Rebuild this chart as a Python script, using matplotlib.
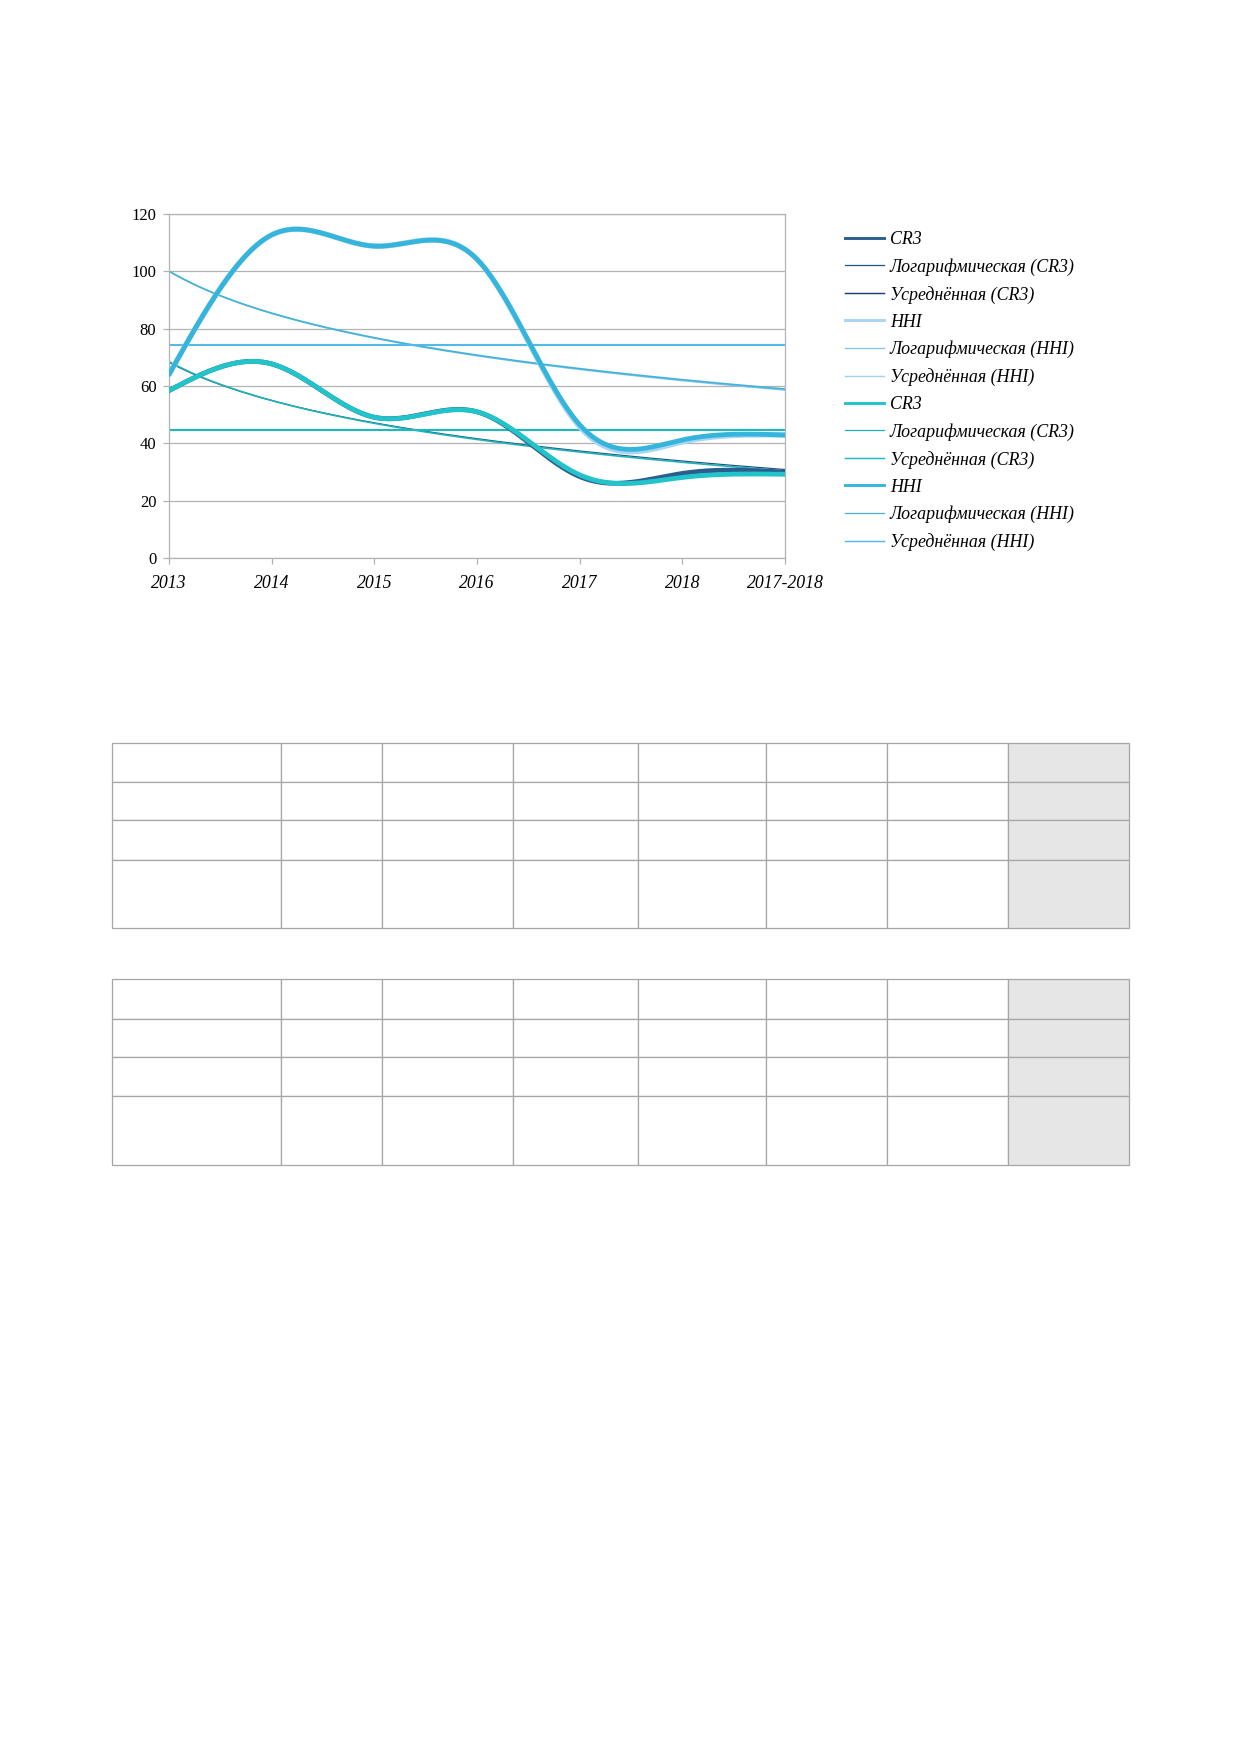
import numpy as np
import matplotlib.pyplot as plt
from matplotlib.lines import Line2D
from matplotlib.patches import Rectangle

# categories and series
years = ["2013", "2014", "2015", "2016", "2017", "2018", "2017-2018"]
cr3_dark = [58.4, 67.7, 49.1, 51.0, 28.4, 29.5, 29.9]
hhi_light = [64.0, 112.7, 108.8, 104.2, 45.8, 40.5, 42.9]
cr3_cyan = [58.4, 67.7, 49.1, 51.0, 29.0, 28.1, 29.2]
hhi_blue = [64.0, 112.7, 108.8, 104.2, 46.5, 41.2, 42.9]
y_ticks = [0, 20, 40, 60, 80, 100, 120]

W, H = 1239, 1754
DPI = 150


def smooth(y, n=400):
    # natural cubic spline through the category points
    y = np.asarray(y, float)
    x = np.arange(len(y), dtype=float)
    h = np.diff(x)
    k = len(x)
    A = np.zeros((k, k))
    r = np.zeros(k)
    A[0, 0] = A[-1, -1] = 1
    for i in range(1, k - 1):
        A[i, i - 1] = h[i - 1]
        A[i, i] = 2 * (h[i - 1] + h[i])
        A[i, i + 1] = h[i]
        r[i] = 3 * ((y[i + 1] - y[i]) / h[i] - (y[i] - y[i - 1]) / h[i - 1])
    c = np.linalg.solve(A, r)
    b = (y[1:] - y[:-1]) / h - h * (2 * c[:-1] + c[1:]) / 3
    d = (c[1:] - c[:-1]) / (3 * h)
    xs = np.linspace(x[0], x[-1], n)
    idx = np.clip(np.searchsorted(x, xs, side="right") - 1, 0, k - 2)
    dx = xs - x[idx]
    return xs, y[idx] + b[idx] * dx + c[idx] * dx ** 2 + d[idx] * dx ** 3


def log_trend(y, n=400):
    pos = np.arange(len(y)) + 1.0
    slope, inter = np.polyfit(np.log(pos), y, 1)
    xs = np.linspace(1, len(y), n)
    return xs - 1, inter + slope * np.log(xs)


# (name, values, main colour, main lw, log colour, log lw, mean colour, mean lw)
series = [
    ("CR3", cr3_dark, "#2b5e8e", 2.3, "#1f5283", 0.6, "#163f6e", 0.5),
    ("HHI", hhi_light, "#a8d6f4", 2.6, "#7fc3ec", 0.7, "#a4d2f0", 0.5),
    ("CR3", cr3_cyan, "#22c3c9", 2.3, "#1eb2b6", 0.8, "#1bbabe", 1.0),
    ("HHI", hhi_blue, "#36b5dc", 2.3, "#44b3d8", 0.8, "#52b9e8", 1.0),
]

fig = plt.figure(figsize=(W / DPI, H / DPI), dpi=DPI)
ax = fig.add_axes([169 / W, 1 - 558 / H, (785 - 169) / W, (558 - 214) / H])

handles = []
labels = []
for name, vals, col, lw, logcol, llw, meancol, mlw in series:
    xs, ys = smooth(vals)
    ax.plot(xs, ys, color=col, lw=lw, solid_capstyle="round", zorder=3)
    lx, ly = log_trend(vals)
    ax.plot(lx, ly, color=logcol, lw=llw, zorder=2)
    ax.axhline(np.mean(vals), color=meancol, lw=mlw, zorder=2)
    handles += [Line2D([], [], color=col, lw=1.4),
                Line2D([], [], color=logcol, lw=0.6),
                Line2D([], [], color=meancol, lw=0.7)]
    labels += [name, f"Логарифмическая ({name})", f"Усреднённая ({name})"]

ax.set_xlim(0, len(years) - 1)
ax.set_ylim(0, 120)
ax.set_yticks(y_ticks)
ax.set_yticklabels([str(v) for v in y_ticks], family="Liberation Serif", fontsize=8)
ax.set_xticks(range(len(years)))
ax.set_xticklabels(years, family="Liberation Serif", style="italic", fontsize=8.5)
ax.tick_params(axis="both", direction="out", length=3, width=0.6, color="#b3b3b3")
ax.tick_params(axis="y", pad=3)
ax.tick_params(axis="x", pad=5)
ax.grid(axis="y", color="#b3b3b3", lw=0.6)
ax.set_axisbelow(True)
for s in ax.spines.values():
    s.set_color("#b3b3b3")
    s.set_linewidth(0.6)

fig.legend(handles, labels, loc="upper left", bbox_to_anchor=(836 / W, 1 - 222 / H),
           frameon=False, borderpad=0, handlelength=2.2, handletextpad=0.3,
           labelspacing=0.56, prop={"family": "Liberation Serif", "style": "italic", "size": 8.6})

# two empty tables below the chart
col_edges = [112.3, 281.1, 381.6, 513.3, 638, 766, 887.3, 1007.9, 1128.7]
table_rows = [[743, 782, 820.3, 860.3, 928.3],
              [979.3, 1019.3, 1057.3, 1096.3, 1165]]

tab = fig.add_axes([0, 0, 1, 1])
tab.set_xlim(0, W)
tab.set_ylim(H, 0)
tab.axis("off")
for rows in table_rows:
    for r0, r1 in zip(rows[:-1], rows[1:]):
        for j, (c0, c1) in enumerate(zip(col_edges[:-1], col_edges[1:])):
            face = "#e6e6e6" if j == len(col_edges) - 2 else "white"
            tab.add_patch(Rectangle((c0, r0), c1 - c0, r1 - r0, facecolor=face,
                                    edgecolor="#a6a6a6", lw=0.6))

fig.savefig("out.png", dpi=DPI)
